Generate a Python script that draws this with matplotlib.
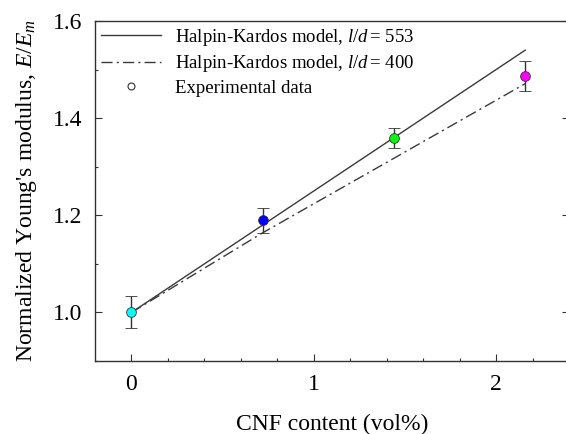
import matplotlib
matplotlib.use("Agg")
import matplotlib.pyplot as plt
from matplotlib.lines import Line2D
import numpy as np

plt.rcParams['font.family'] = ['Liberation Serif', 'DejaVu Serif']
plt.rcParams['mathtext.fontset'] = 'custom'
plt.rcParams['mathtext.rm'] = 'Liberation Serif'
plt.rcParams['mathtext.it'] = 'Liberation Serif:italic'

# data
cnf = [0.0, 0.72, 1.44, 2.16]
modulus = [1.0, 1.19, 1.359, 1.486]
err = [0.033, 0.026, 0.02, 0.031]
colors = ['#00FFFF', '#0000FF', '#00FF00', '#FF00FF']

model553 = [1.0, 1.18, 1.36, 1.54]
model400_x = [0.0, 0.72, 2.16]
model400 = [1.0, 1.164, 1.471]

fig = plt.figure(figsize=(5.66, 4.34), dpi=100)
ax = fig.add_axes([95/566, 73/434, 474/566, 340/434])

line_col = '#3a3a3a'
ax.plot(cnf, model553, '-', color=line_col, lw=1.0, zorder=2)
ax.plot(model400_x, model400, color=line_col, lw=1.0, dashes=[8, 3, 1.5, 3], zorder=2)

for x, y, e, c in zip(cnf, modulus, err, colors):
    ax.errorbar(x, y, yerr=e, fmt='o', color=c, mec='#333333', mew=0.6, ms=7,
                ecolor='#333333', elinewidth=1.0, capsize=4.5, capthick=1.0, zorder=3)

ax.set_xlim(-0.2, 2.4)
ax.set_ylim(0.9, 1.6)
ax.set_xticks([0, 1, 2])
ax.set_xticks(np.arange(0, 2.41, 0.2), minor=True)
ax.set_yticks([1.0, 1.2, 1.4, 1.6])
ax.set_yticks(np.arange(0.9, 1.61, 0.1), minor=True)
ax.set_yticklabels(['1.0', '1.2', '1.4', '1.6'])
ax.tick_params(which='both', direction='in', right=True, top=False, labelsize=17, width=0.8, color='#333333')
ax.tick_params(which='major', length=5, pad=9)
ax.tick_params(which='minor', length=2.5)
for s in ax.spines.values():
    s.set_linewidth(1.0)
    s.set_color('#333333')
ax.spines['right'].set_visible(False)

ax.set_xlabel('CNF content (vol%)', fontsize=17, labelpad=14)
ax.set_ylabel(r"Normalized Young's modulus, $E/E_m$", fontsize=17, labelpad=10)

handles = [
    Line2D([], [], color=line_col, lw=1.0),
    Line2D([], [], color=line_col, lw=1.0, dashes=[8, 3, 1.5, 3]),
    Line2D([], [], ls='none', marker='o', mfc='white', mec='#333333', mew=0.8, ms=5),
]
labels = [r"Halpin-Kardos model, $l/d\,$= 553",
          r"Halpin-Kardos model, $l/d\,$= 400",
          "Experimental data"]
ax.legend(handles, labels, loc='upper left', frameon=False, fontsize=13.5,
          handlelength=3.2, handletextpad=0.75, labelspacing=0.3,
          borderaxespad=0.0, borderpad=0.3, bbox_to_anchor=(0.0, 1.0))

fig.savefig('out.png', dpi=100)
